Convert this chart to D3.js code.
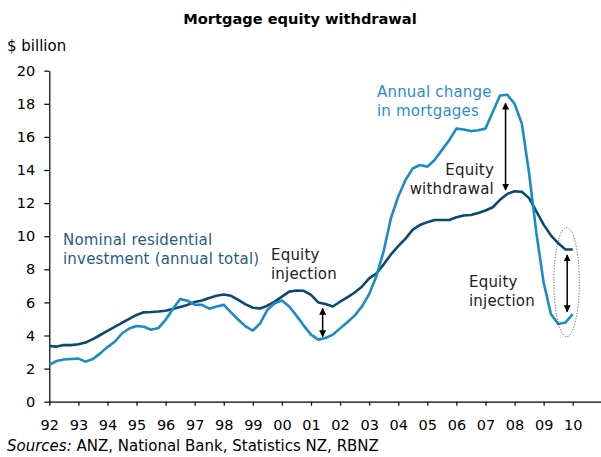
<!DOCTYPE html>
<html>
<head>
<meta charset="utf-8">
<script src="https://cdn.jsdelivr.net/npm/d3@7"></script>
<style>
  body { margin: 0; background: #fff; }
  svg text { font-family: "DejaVu Sans", Verdana, sans-serif; }
</style>
</head>
<body>
<svg id="mainsvg" width="601" height="457"></svg>
<script>
// quarterly data, 1992 Q1 .. 2010 Q1
let startYear = 1992;
let yearTicks = d3.range(1992, 2011);
let yTicks = [0, 2, 4, 6, 8, 10, 12, 14, 16, 18, 20];

// annual change in mortgages ($ billion)
let mortgages = [
    2.22, 2.46, 2.55, 2.58,
    2.6, 2.42, 2.58, 2.92,
    3.3, 3.62, 4.12, 4.42,
    4.57, 4.53, 4.35, 4.45,
    4.95, 5.6, 6.2, 6.1,
    5.86, 5.85, 5.62, 5.75,
    5.85, 5.4, 4.95, 4.55,
    4.3, 4.73, 5.55, 5.95,
    6.12, 5.75, 5.2, 4.6,
    4.05, 3.75, 3.85, 4.05,
    4.43, 4.8, 5.2, 5.75,
    6.5, 7.6, 9.1, 11.1,
    12.4, 13.4, 14.1, 14.3,
    14.2, 14.6, 15.2, 15.8,
    16.5, 16.45, 16.35, 16.4,
    16.5, 17.5, 18.5, 18.55,
    18.0, 16.8, 13.8, 10.2,
    7.2, 5.3, 4.7, 4.78,
    5.3
];

// nominal residential investment, annual total ($ billion)
let investment = [
    3.37, 3.33, 3.42, 3.42,
    3.47, 3.58, 3.78, 4.03,
    4.28, 4.52, 4.77, 5.0,
    5.24, 5.4, 5.42, 5.45,
    5.5, 5.6, 5.72, 5.85,
    6.02, 6.12, 6.27, 6.4,
    6.48, 6.4, 6.15, 5.88,
    5.68, 5.63, 5.8, 6.05,
    6.35, 6.65, 6.72, 6.7,
    6.45, 6.0, 5.9, 5.75,
    6.04, 6.3, 6.6, 6.95,
    7.45, 7.75, 8.3, 8.9,
    9.4, 9.85, 10.4, 10.68,
    10.85, 10.98, 10.98, 10.98,
    11.15, 11.25, 11.28, 11.4,
    11.55, 11.75, 12.2, 12.55,
    12.72, 12.68, 12.3, 11.5,
    10.7, 10.05, 9.57, 9.2,
    9.2
];

// double-headed arrows: date, top value, bottom value
let arrows = [
    {t: 2007.69, top: 18.03, bottom: 12.79},
    {t: 2001.40, top: 5.64, bottom: 3.93},
    {t: 2009.81, top: 8.86, bottom: 5.44}
];

let colors = {
    mortgages: "#1a8bc8",
    investment: "#0b4a6e",
    mortgagesText: "#2a8fcb",
    investmentText: "#245e82"
};

let svg = d3.select("#mainsvg");

let x = d3.scaleLinear().domain([1992, 2011]).range([49.3, 601.8]);
let y = d3.scaleLinear().domain([0, 20]).range([401.7, 70.7]);

let toPoints = function(values) {
    return values.map(function(v, i) {
        return {t: startYear + i * 0.25, v: v};
    });
};

// title
svg.append("text")
    .attr("x", 300).attr("y", 24)
    .attr("text-anchor", "middle")
    .attr("font-size", 14.6).attr("font-weight", "bold")
    .text("Mortgage equity withdrawal");

svg.append("text")
    .attr("x", 7).attr("y", 51)
    .attr("font-size", 15)
    .text("$ billion");

// axes
let yAxis = svg.append("g")
    .attr("transform", "translate(" + x(1992) + ",0)")
    .call(d3.axisLeft(y).tickValues(yTicks).tickSize(5).tickSizeOuter(0).tickPadding(9));
let xAxis = svg.append("g")
    .attr("transform", "translate(0," + y(0) + ")")
    .call(d3.axisBottom(x).tickValues(yearTicks).tickSize(4).tickSizeOuter(0)
        .tickFormat(d => String(d).slice(2)));

for (let g of [yAxis, xAxis]) {
    g.selectAll("path, line").attr("stroke", "#000").attr("stroke-width", 1.2);
    g.selectAll("text").attr("font-size", 14.5).attr("fill", "#000")
        .attr("font-family", "DejaVu Sans, Verdana, sans-serif");
}
xAxis.selectAll("text").attr("y", 18);

// lines
let line = d3.line().x(d => x(d.t)).y(d => y(d.v));

svg.append("path")
    .datum(toPoints(investment))
    .attr("d", line)
    .attr("fill", "none")
    .attr("stroke", colors.investment)
    .attr("stroke-width", 2.6)
    .attr("stroke-linejoin", "round");

svg.append("path")
    .datum(toPoints(mortgages))
    .attr("d", line)
    .attr("fill", "none")
    .attr("stroke", colors.mortgages)
    .attr("stroke-width", 2.6)
    .attr("stroke-linejoin", "round");

// arrows
let defs = svg.append("defs");
defs.append("marker")
    .attr("id", "head")
    .attr("viewBox", "0 0 10 10")
    .attr("refX", 9).attr("refY", 5)
    .attr("markerWidth", 7).attr("markerHeight", 8)
    .attr("markerUnits", "userSpaceOnUse")
    .attr("orient", "auto-start-reverse")
    .append("path")
    .attr("d", "M0,0 L10,5 L0,10 Z")
    .attr("fill", "#000");

svg.selectAll(".arrow")
    .data(arrows)
    .enter()
    .append("line")
    .attr("class", "arrow")
    .attr("x1", d => x(d.t)).attr("x2", d => x(d.t))
    .attr("y1", d => y(d.top)).attr("y2", d => y(d.bottom))
    .attr("stroke", "#000")
    .attr("stroke-width", 1.5)
    .attr("marker-start", "url(#head)")
    .attr("marker-end", "url(#head)");

// dotted ellipse round the latest injection
svg.append("ellipse")
    .attr("cx", x(2009.79)).attr("cy", y(7.23))
    .attr("rx", 12.7).attr("ry", y(0) - y(3.3))
    .attr("fill", "none")
    .attr("stroke", "#333")
    .attr("stroke-width", 0.8)
    .attr("stroke-dasharray", "1.2,1.6");

// labels
let addLabel = function(lines, px, py, color, anchor) {
    let t = svg.append("text")
        .attr("font-size", 15)
        .attr("letter-spacing", 0.2)
        .attr("fill", color)
        .attr("text-anchor", anchor || "start");
    lines.forEach(function(s, i) {
        t.append("tspan").attr("x", px).attr("y", py + i * 18.5).text(s);
    });
};

addLabel(["Nominal residential", "investment (annual total)"], 63, 245, colors.investmentText);
addLabel(["Annual change", "in mortgages"], 377, 97, colors.mortgagesText);
addLabel(["Equity", "injection"], 271, 260, "#222");
addLabel(["Equity", "withdrawal"], 494, 175, "#222", "end");
addLabel(["Equity", "injection"], 469, 287, "#222");

// sources
let src = svg.append("text")
    .attr("x", 7).attr("y", 451)
    .attr("font-size", 15);
src.append("tspan").attr("font-style", "italic").text("Sources:");
src.append("tspan").text(" ANZ, National Bank, Statistics NZ, RBNZ");
</script>
</body>
</html>
